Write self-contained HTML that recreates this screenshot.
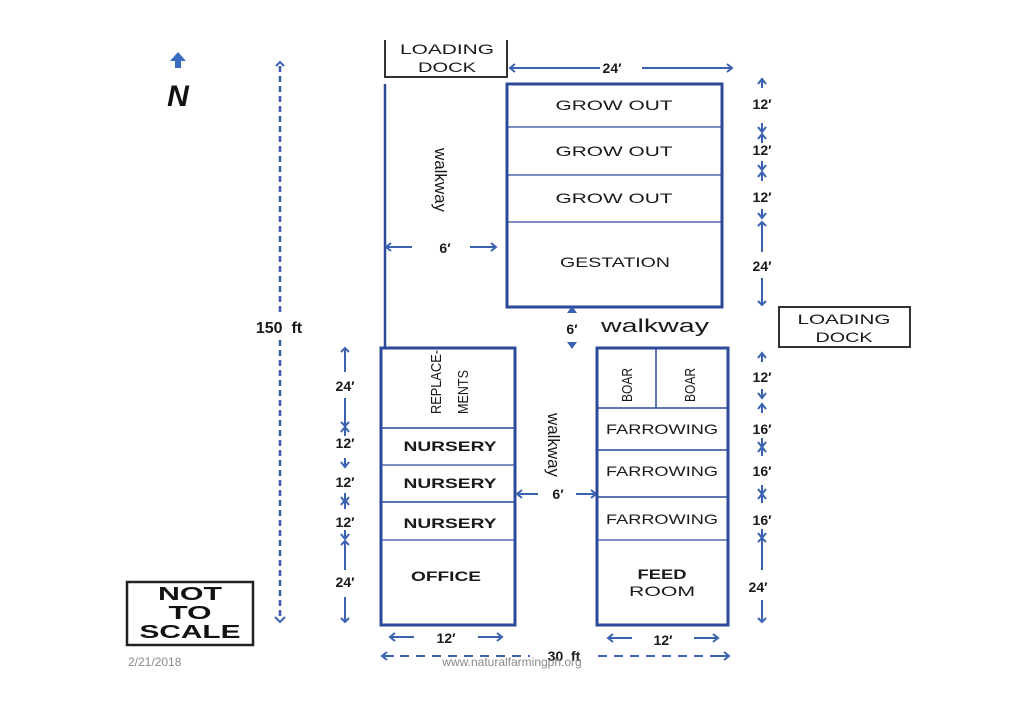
<!DOCTYPE html>
<html><head><meta charset="utf-8"><style>
html,body{margin:0;padding:0;background:#fff;}
svg{display:block;}
text{font-family:"Liberation Sans",sans-serif;}
.l{font-size:14px;fill:#1a1a1a;text-anchor:middle;}
.d{font-size:14px;fill:#1a1a1a;font-weight:bold;text-anchor:middle;}
.bl{stroke:#2d4a9a;fill:none;}
.ar{stroke:#3a62b0;stroke-width:2;fill:none;}
</style></head><body>
<svg width="1024" height="724" viewBox="0 0 1024 724" xmlns="http://www.w3.org/2000/svg">
<defs>
<g id="up"><path d="M0,0 L0,9 M-4,5 L0,0 L4,5" class="ar"/></g>
<g id="dn"><path d="M0,0 L0,-9 M-4,-5 L0,0 L4,-5" class="ar"/></g>
<g id="lf"><path d="M0,0 L12,0 M5,-4 L0,0 L5,4" class="ar"/></g>
<g id="rt"><path d="M0,0 L-12,0 M-5,-4 L0,0 L-5,4" class="ar"/></g>
</defs>

<!-- North -->
<path d="M178,52 L170,61 L175,61 L175,68 L181,68 L181,61 L186,61 Z" fill="#3a6cc0"/>
<text x="178" y="106" font-size="30" font-style="italic" font-weight="bold" text-anchor="middle" fill="#111">N</text>

<!-- 150 ft -->
<line x1="280" y1="66" x2="280" y2="312" stroke="#3a5ca8" stroke-width="2.5" stroke-dasharray="6,4"/>
<line x1="280" y1="340" x2="280" y2="618" stroke="#3a5ca8" stroke-width="2.5" stroke-dasharray="6,4"/>
<path d="M276,66 L280,62 L284,66" class="ar"/>
<path d="M275,617 L280,622 L285,617" class="ar"/>
<text x="279" y="333" font-size="16" font-weight="bold" text-anchor="middle" fill="#1a1a1a" xml:space="preserve">150  ft</text>

<!-- NOT TO SCALE -->
<rect x="127" y="582" width="126" height="63" fill="none" stroke="#222" stroke-width="2.5"/>
<text x="190" y="600" font-size="18" font-weight="bold" text-anchor="middle" fill="#111" textLength="64" lengthAdjust="spacingAndGlyphs">NOT</text>
<text x="190" y="619" font-size="18" font-weight="bold" text-anchor="middle" fill="#111" textLength="43" lengthAdjust="spacingAndGlyphs">TO</text>
<text x="190" y="638" font-size="18" font-weight="bold" text-anchor="middle" fill="#111" textLength="101" lengthAdjust="spacingAndGlyphs">SCALE</text>

<!-- top loading dock -->
<path d="M385,40 L385,77 L507,77 L507,40" fill="none" stroke="#333" stroke-width="2"/>
<text x="447" y="54" class="l" textLength="94" lengthAdjust="spacingAndGlyphs">LOADING</text>
<text x="447" y="72" class="l" textLength="58" lengthAdjust="spacingAndGlyphs">DOCK</text>
<path d="M512,68 L600,68" class="ar"/><use href="#lf" x="510" y="68"/>
<path d="M642,68 L730,68" class="ar"/><use href="#rt" x="732" y="68"/>
<text x="612" y="73" class="d" font-size="17">24′</text>

<!-- left walkway line -->
<line x1="385" y1="84" x2="385" y2="348" stroke="#2d4a9a" stroke-width="2.5"/>
<text transform="translate(440,180) rotate(90)" font-size="17" text-anchor="middle" fill="#1a1a1a" dy="5" textLength="64" lengthAdjust="spacingAndGlyphs">walkway</text>
<path d="M388,247 L412,247" class="ar"/><use href="#lf" x="386" y="247"/>
<path d="M470,247 L494,247" class="ar"/><use href="#rt" x="496" y="247"/>
<text x="445" y="253" class="d" font-size="16">6′</text>

<!-- top block -->
<rect x="507" y="84" width="215" height="223" class="bl" stroke-width="3"/>
<line x1="507" y1="127" x2="722" y2="127" class="bl" stroke-width="1.2"/>
<line x1="507" y1="175" x2="722" y2="175" class="bl" stroke-width="1.2"/>
<line x1="507" y1="222" x2="722" y2="222" class="bl" stroke-width="1.2"/>
<text x="614" y="110" class="l" font-size="15" textLength="117" lengthAdjust="spacingAndGlyphs">GROW OUT</text>
<text x="614" y="156" class="l" font-size="15" textLength="117" lengthAdjust="spacingAndGlyphs">GROW OUT</text>
<text x="614" y="203" class="l" font-size="15" textLength="117" lengthAdjust="spacingAndGlyphs">GROW OUT</text>
<text x="615" y="267" class="l" font-size="15" textLength="110" lengthAdjust="spacingAndGlyphs">GESTATION</text>

<!-- right dims top -->
<use href="#up" x="762" y="79"/><text x="762" y="109" class="d">12′</text><use href="#dn" x="762" y="132"/>
<use href="#up" x="762" y="134"/><text x="762" y="155" class="d">12′</text><use href="#dn" x="762" y="170"/>
<use href="#up" x="762" y="172"/><text x="762" y="202" class="d">12′</text><use href="#dn" x="762" y="218"/>
<path d="M762,222 L762,252 M758,226 L762,222 L766,226" class="ar"/>
<text x="762" y="271" class="d">24′</text>
<path d="M762,278 L762,305 M758,301 L762,305 L766,301" class="ar"/>

<!-- middle walkway -->
<path d="M567,313 L572,306 L577,313 Z M567,342 L572,349 L577,342 Z" fill="#3a62b0"/>
<text x="572" y="334" class="d" font-size="14">6′</text>
<text x="655" y="332" font-size="18" text-anchor="middle" fill="#1a1a1a" textLength="108" lengthAdjust="spacingAndGlyphs">walkway</text>

<!-- right loading dock -->
<rect x="779" y="307" width="131" height="40" fill="none" stroke="#333" stroke-width="2"/>
<text x="844" y="324" class="l" textLength="93" lengthAdjust="spacingAndGlyphs">LOADING</text>
<text x="844" y="342" class="l" textLength="57" lengthAdjust="spacingAndGlyphs">DOCK</text>

<!-- left lower block -->
<rect x="381" y="348" width="134" height="277" class="bl" stroke-width="3"/>
<line x1="381" y1="428" x2="515" y2="428" class="bl" stroke-width="1.5"/>
<line x1="381" y1="465" x2="515" y2="465" class="bl" stroke-width="1.2"/>
<line x1="381" y1="502" x2="515" y2="502" class="bl" stroke-width="1.5"/>
<line x1="381" y1="540" x2="515" y2="540" class="bl" stroke-width="1.2"/>
<text transform="translate(436,382) rotate(-90)" font-size="15" text-anchor="middle" fill="#1a1a1a" dy="5" textLength="64" lengthAdjust="spacingAndGlyphs">REPLACE-</text>
<text transform="translate(463,392) rotate(-90)" font-size="15" text-anchor="middle" fill="#1a1a1a" dy="5" textLength="44" lengthAdjust="spacingAndGlyphs">MENTS</text>
<text x="450" y="451" class="l" font-weight="bold" textLength="93" lengthAdjust="spacingAndGlyphs">NURSERY</text>
<text x="450" y="488" class="l" font-weight="bold" textLength="93" lengthAdjust="spacingAndGlyphs">NURSERY</text>
<text x="450" y="528" class="l" font-weight="bold" textLength="93" lengthAdjust="spacingAndGlyphs">NURSERY</text>
<text x="446" y="581" class="l" font-weight="bold" textLength="70" lengthAdjust="spacingAndGlyphs">OFFICE</text>

<!-- left dims -->
<path d="M345,348 L345,372 M341,352 L345,348 L349,352" class="ar"/>
<text x="345" y="391" class="d">24′</text>
<path d="M345,398 L345,426 M341,422 L345,426 L349,422" class="ar"/>
<use href="#up" x="345" y="427"/>
<text x="345" y="448" class="d">12′</text><use href="#dn" x="345" y="467"/>
<text x="345" y="487" class="d">12′</text><use href="#dn" x="345" y="502"/><use href="#up" x="345" y="500"/>
<text x="345" y="527" class="d">12′</text><use href="#dn" x="345" y="539"/>
<path d="M345,541 L345,570 M341,545 L345,541 L349,545" class="ar"/>
<text x="345" y="587" class="d">24′</text>
<path d="M345,597 L345,622 M341,618 L345,622 L349,618" class="ar"/>

<!-- center walkway -->
<text transform="translate(553,445) rotate(90)" font-size="17" text-anchor="middle" fill="#1a1a1a" dy="5" textLength="64" lengthAdjust="spacingAndGlyphs">walkway</text>
<path d="M518,494 L538,494" class="ar"/><use href="#lf" x="517" y="494"/>
<path d="M576,494 L594,494" class="ar"/><use href="#rt" x="596" y="494"/>
<text x="558" y="499" class="d" font-size="15">6′</text>

<!-- right lower block -->
<rect x="597" y="348" width="131" height="277" class="bl" stroke-width="3"/>
<line x1="656" y1="348" x2="656" y2="408" class="bl" stroke-width="1.5"/>
<line x1="597" y1="408" x2="728" y2="408" class="bl" stroke-width="1.5"/>
<line x1="597" y1="450" x2="728" y2="450" class="bl" stroke-width="1.5"/>
<line x1="597" y1="497" x2="728" y2="497" class="bl" stroke-width="1.5"/>
<line x1="597" y1="540" x2="728" y2="540" class="bl" stroke-width="1.2"/>
<text transform="translate(627,385) rotate(-90)" font-size="15" text-anchor="middle" fill="#1a1a1a" dy="5" textLength="34" lengthAdjust="spacingAndGlyphs">BOAR</text>
<text transform="translate(690,385) rotate(-90)" font-size="15" text-anchor="middle" fill="#1a1a1a" dy="5" textLength="34" lengthAdjust="spacingAndGlyphs">BOAR</text>
<text x="662" y="434" class="l" textLength="112" lengthAdjust="spacingAndGlyphs">FARROWING</text>
<text x="662" y="476" class="l" textLength="112" lengthAdjust="spacingAndGlyphs">FARROWING</text>
<text x="662" y="524" class="l" textLength="112" lengthAdjust="spacingAndGlyphs">FARROWING</text>
<text x="662" y="579" class="l" font-size="15" font-weight="bold" textLength="49" lengthAdjust="spacingAndGlyphs">FEED</text>
<text x="662" y="596" class="l" font-size="15" textLength="66" lengthAdjust="spacingAndGlyphs">ROOM</text>

<!-- right lower dims -->
<use href="#up" x="762" y="353"/><text x="762" y="382" class="d">12′</text><use href="#dn" x="762" y="398"/>
<use href="#up" x="762" y="404"/><text x="762" y="434" class="d">16′</text><use href="#dn" x="762" y="447"/>
<use href="#up" x="762" y="447"/><text x="762" y="476" class="d">16′</text><use href="#dn" x="762" y="494"/>
<use href="#up" x="762" y="494"/><text x="762" y="525" class="d">16′</text><use href="#dn" x="762" y="538"/>
<path d="M762,538 L762,570 M758,542 L762,538 L766,542" class="ar"/>
<text x="758" y="592" class="d">24′</text>
<path d="M762,600 L762,622 M758,618 L762,622 L766,618" class="ar"/>

<!-- bottom dims -->
<path d="M392,637 L414,637" class="ar"/><use href="#lf" x="390" y="637"/>
<path d="M478,637 L500,637" class="ar"/><use href="#rt" x="502" y="637"/>
<text x="446" y="643" class="d" font-size="17">12′</text>
<path d="M610,638 L632,638" class="ar"/><use href="#lf" x="608" y="638"/>
<path d="M694,638 L716,638" class="ar"/><use href="#rt" x="718" y="638"/>
<text x="663" y="645" class="d" font-size="17">12′</text>
<line x1="384" y1="656" x2="530" y2="656" stroke="#3a62b0" stroke-width="2" stroke-dasharray="9,7"/>
<line x1="598" y1="656" x2="726" y2="656" stroke="#3a62b0" stroke-width="2" stroke-dasharray="9,7"/>
<use href="#lf" x="382" y="656"/><use href="#rt" x="729" y="656"/>
<text x="564" y="661" class="d" font-size="17" xml:space="preserve">30  ft</text>
<text x="512" y="666" font-size="12" text-anchor="middle" fill="#8a8a8a">www.naturalfarmingph.org</text>
<text x="128" y="666" font-size="12" fill="#8a8a8a">2/21/2018</text>
</svg>
</body></html>
